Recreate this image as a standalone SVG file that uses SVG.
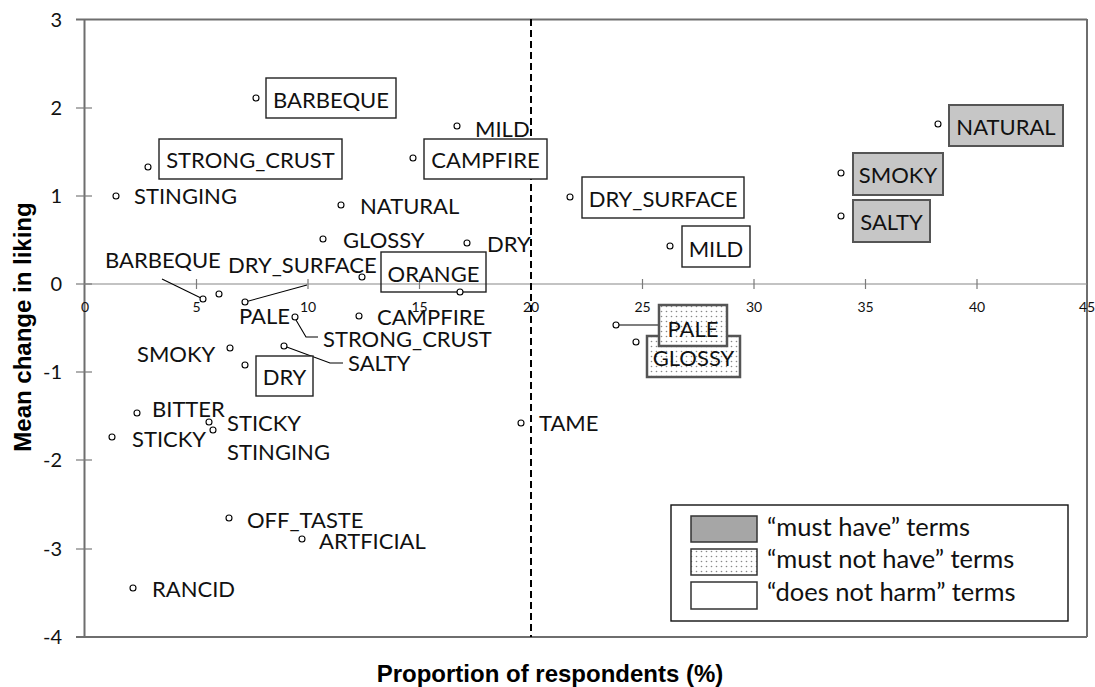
<svg xmlns="http://www.w3.org/2000/svg" width="1095" height="687" viewBox="0 0 1095 687">
<style>
.lbl{font-family:Lato,"Liberation Sans",sans-serif;font-size:22px;fill:#111}
.bl{font-family:Lato,"Liberation Sans",sans-serif;font-size:22px;fill:#111;text-anchor:middle}
.yt{font-family:Lato,"Liberation Sans",sans-serif;font-size:20px;fill:#111;text-anchor:end}
.xt{font-family:Lato,"Liberation Sans",sans-serif;font-size:14px;fill:#111;text-anchor:middle}
.ttl{font-family:"Liberation Sans",Arial,sans-serif;font-size:24px;font-weight:bold;fill:#000;text-anchor:middle}
.leg{font-family:Lato,"Liberation Sans",sans-serif;font-size:25.5px;fill:#111}
.pt{fill:#fff;stroke:#000;stroke-width:1.1}
.nh{fill:#fff;stroke:#222;stroke-width:1.4}
.mh{fill:#c6c6c6;stroke:#555;stroke-width:2}
.mnh{fill:url(#dots);stroke:#555;stroke-width:2.5}
.ld{fill:none;stroke:#000;stroke-width:1.1}
.frame{stroke:#6e6e6e;stroke-width:2;fill:none}
.tick{stroke:#7a7a7a;stroke-width:1.2}
</style>
<defs>
<pattern id="dots" width="5" height="5" patternUnits="userSpaceOnUse">
<rect width="5" height="5" fill="#fff"/>
<circle cx="1.5" cy="1.5" r="0.8" fill="#888"/>
</pattern>
</defs>
<rect width="1095" height="687" fill="#fff"/>
<g id="axes">
<line class="frame" x1="76" y1="19.5" x2="1087" y2="19.5"/>
<line class="frame" x1="1087" y1="19" x2="1087" y2="637"/>
<line class="frame" x1="76" y1="637" x2="1087" y2="637"/>
<line class="frame" x1="84.5" y1="19" x2="84.5" y2="637"/>
<line x1="84" y1="284" x2="1087" y2="284" stroke="#888" stroke-width="1.2"/>
<g class="tick">
<line x1="76" y1="108" x2="92" y2="108"/>
<line x1="76" y1="196" x2="92" y2="196"/>
<line x1="76" y1="284" x2="92" y2="284"/>
<line x1="76" y1="372" x2="92" y2="372"/>
<line x1="76" y1="460" x2="92" y2="460"/>
<line x1="76" y1="549" x2="92" y2="549"/>
<line x1="196.5" y1="279" x2="196.5" y2="289"/>
<line x1="308" y1="279" x2="308" y2="289"/>
<line x1="419.5" y1="279" x2="419.5" y2="289"/>
<line x1="642.5" y1="279" x2="642.5" y2="289"/>
<line x1="754" y1="279" x2="754" y2="289"/>
<line x1="865.5" y1="279" x2="865.5" y2="289"/>
<line x1="977" y1="279" x2="977" y2="289"/>
</g>
<text class="yt" x="62" y="27">3</text>
<text class="yt" x="62" y="115">2</text>
<text class="yt" x="62" y="203">1</text>
<text class="yt" x="62" y="291">0</text>
<text class="yt" x="62" y="379">-1</text>
<text class="yt" x="62" y="467">-2</text>
<text class="yt" x="62" y="556">-3</text>
<text class="yt" x="62" y="644">-4</text>
<text class="xt" x="85" y="312">0</text>
<text class="xt" x="196.5" y="312">5</text>
<text class="xt" x="308" y="312">10</text>
<text class="xt" x="419.5" y="312">15</text>
<text class="xt" x="531" y="312">20</text>
<text class="xt" x="642.5" y="312">25</text>
<text class="xt" x="754" y="312">30</text>
<text class="xt" x="865.5" y="312">35</text>
<text class="xt" x="977" y="312">40</text>
<text class="xt" x="1087" y="312">45</text>
<line x1="531" y1="19" x2="531" y2="637" stroke="#000" stroke-width="2" stroke-dasharray="7 4"/>
<text class="ttl" x="550" y="682">Proportion of respondents (%)</text>
<text class="ttl" transform="translate(31 327) rotate(-90)">Mean change in liking</text>
</g>
<g id="connectors">
<line class="ld" x1="162" y1="279" x2="203" y2="299"/>
<line class="ld" x1="245" y1="302" x2="307" y2="285"/>
<polyline class="ld" points="296,320 306,337 318,337"/>
<polyline class="ld" points="284,346 330,363 343,363"/>
<line class="ld" x1="616" y1="325" x2="659" y2="325"/>
</g>
<g id="n-barbeque-box"><circle class="pt" cx="256" cy="98" r="3"/><rect class="nh" x="266" y="78" width="130" height="40"/><text class="bl" x="331" y="108">BARBEQUE</text></g>
<g id="n-strongcrust-box"><circle class="pt" cx="148" cy="167" r="3"/><rect class="nh" x="159" y="139" width="183" height="40"/><text class="bl" x="250.5" y="168">STRONG_CRUST</text></g>
<g id="n-stinging-1"><circle class="pt" cx="116" cy="196" r="3"/><text class="lbl" x="134" y="204">STINGING</text></g>
<g id="n-mild-1"><circle class="pt" cx="457" cy="126" r="3"/><text class="lbl" x="475" y="137">MILD</text></g>
<g id="n-campfire-box"><circle class="pt" cx="413" cy="158" r="3"/><rect class="nh" x="424" y="139" width="123" height="40"/><text class="bl" x="485.5" y="168">CAMPFIRE</text></g>
<g id="n-natural-1"><circle class="pt" cx="341" cy="205" r="3"/><text class="lbl" x="360" y="214">NATURAL</text></g>
<g id="n-glossy-1"><circle class="pt" cx="323" cy="239" r="3"/><text class="lbl" x="343" y="248">GLOSSY</text></g>
<g id="n-dry-1"><circle class="pt" cx="467" cy="243" r="3"/><text class="lbl" x="487" y="252">DRY</text></g>
<g id="n-orange-box"><circle class="pt" cx="362" cy="277" r="3"/><rect class="nh" x="381" y="252" width="105" height="40" fill-opacity="0"/><text class="bl" x="433.5" y="282">ORANGE</text><circle class="pt" cx="460" cy="292" r="3"/></g>
<g id="n-barbeque-2"><circle class="pt" cx="203" cy="299" r="3"/><text class="lbl" x="105" y="268">BARBEQUE</text></g>
<g id="n-dry-surface-2"><circle class="pt" cx="245" cy="302" r="3"/><text class="lbl" x="228" y="273">DRY_SURFACE</text></g>
<g id="n-pale-2"><circle class="pt" cx="219" cy="294" r="3"/><text class="lbl" x="239" y="324">PALE</text></g>
<g id="n-strongcrust-2"><circle class="pt" cx="295" cy="317" r="3"/><text class="lbl" x="323" y="347">STRONG_CRUST</text></g>
<g id="n-campfire-2"><circle class="pt" cx="359" cy="316" r="3"/><text class="lbl" x="377" y="325">CAMPFIRE</text></g>
<g id="n-smoky-2"><circle class="pt" cx="230" cy="348" r="3"/><text class="lbl" x="137" y="362">SMOKY</text></g>
<g id="n-salty-2"><circle class="pt" cx="284" cy="346" r="3"/><text class="lbl" x="348" y="371">SALTY</text></g>
<g id="n-dry-box"><circle class="pt" cx="245" cy="365" r="3"/><rect class="nh" x="256" y="356" width="57" height="40"/><text class="bl" x="284.5" y="385">DRY</text></g>
<g id="n-bitter"><circle class="pt" cx="137" cy="413" r="3"/><text class="lbl" x="152" y="417">BITTER</text></g>
<g id="n-sticky-1"><circle class="pt" cx="112" cy="437" r="3"/><text class="lbl" x="132" y="447">STICKY</text></g>
<g id="n-sticky-2"><circle class="pt" cx="209" cy="422" r="3"/><text class="lbl" x="227" y="431">STICKY</text></g>
<g id="n-stinging-2"><circle class="pt" cx="213" cy="430" r="3"/><text class="lbl" x="227" y="460">STINGING</text></g>
<g id="n-tame"><circle class="pt" cx="521" cy="423" r="3"/><text class="lbl" x="539" y="431">TAME</text></g>
<g id="n-off-taste"><circle class="pt" cx="229" cy="518" r="3"/><text class="lbl" x="247" y="528">OFF_TASTE</text></g>
<g id="n-artficial"><circle class="pt" cx="302" cy="539" r="3"/><text class="lbl" x="319" y="549">ARTFICIAL</text></g>
<g id="n-rancid"><circle class="pt" cx="133" cy="588" r="3"/><text class="lbl" x="152" y="597">RANCID</text></g>
<g id="n-dry-surface-box"><circle class="pt" cx="570" cy="197" r="3"/><rect class="nh" x="582" y="177" width="162" height="41"/><text class="bl" x="663" y="207">DRY_SURFACE</text></g>
<g id="n-mild-box"><circle class="pt" cx="670" cy="246" r="3"/><rect class="nh" x="682" y="226" width="68" height="41"/><text class="bl" x="716" y="257">MILD</text></g>
<g id="n-natural-box"><circle class="pt" cx="938" cy="124" r="3"/><rect class="mh" x="949" y="105" width="114" height="41"/><text class="bl" x="1006" y="135">NATURAL</text></g>
<g id="n-smoky-box"><circle class="pt" cx="841" cy="173" r="3"/><rect class="mh" x="853" y="153" width="90" height="42"/><text class="bl" x="898" y="183">SMOKY</text></g>
<g id="n-salty-box"><circle class="pt" cx="841" cy="216" r="3"/><rect class="mh" x="853" y="200" width="77" height="42"/><text class="bl" x="891.5" y="230">SALTY</text></g>
<g id="n-glossy-box"><circle class="pt" cx="636" cy="342" r="3"/><rect class="mnh" x="647" y="336" width="93" height="41"/><text class="bl" x="693.5" y="366">GLOSSY</text></g>
<g id="n-pale-box"><circle class="pt" cx="616" cy="325" r="3"/><rect class="mnh" x="659" y="305" width="68" height="41"/><text class="bl" x="693" y="337">PALE</text></g>
<g id="legend">
<rect x="671" y="505" width="397" height="116" fill="#fff" stroke="#111" stroke-width="1.4"/>
<rect x="691" y="516" width="66" height="26" fill="#a6a6a6" stroke="#333" stroke-width="1.5"/>
<rect x="691" y="549" width="66" height="26" fill="url(#dots)" stroke="#333" stroke-width="1.5"/>
<rect x="691" y="582" width="66" height="27" fill="#fff" stroke="#333" stroke-width="1.5"/>
<text class="leg" x="767" y="536">“must have” terms</text>
<text class="leg" x="767" y="568">“must not have” terms</text>
<text class="leg" x="767" y="601">“does not harm” terms</text>
</g>
</svg>
